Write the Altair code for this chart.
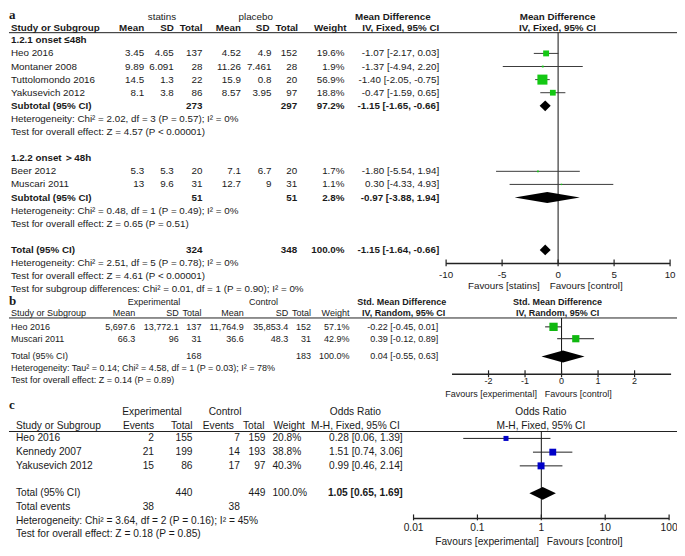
import altair as alt
import pandas as pd

# ======================= DATA =======================
# ---- panel a : statins vs placebo, mean difference ----
A_SUB_TITLES = ["1.2.1 onset ≤48h", "1.2.2 onset ＞48h"]
A_STUDY = ["Heo 2016", "Montaner 2008", "Tuttolomondo 2016", "Yakusevich 2012", "Beer 2012", "Muscari 2011"]
A_GROUP = [0, 0, 0, 0, 1, 1]
A_S_MEAN = ["3.45", "9.89", "14.5", "8.1", "5.3", "13"]
A_S_SD = ["4.65", "6.091", "1.3", "3.8", "5.3", "9.6"]
A_S_N = [137, 28, 22, 86, 20, 31]
A_P_MEAN = ["4.52", "11.26", "15.9", "8.57", "7.1", "12.7"]
A_P_SD = ["4.9", "7.461", "0.8", "3.95", "6.7", "9"]
A_P_N = [152, 28, 20, 97, 20, 31]
A_W = [19.6, 1.9, 56.9, 18.8, 1.7, 1.1]
A_EST = [-1.07, -1.37, -1.40, -0.47, -1.80, 0.30]
A_LO = [-2.17, -4.94, -2.05, -1.59, -5.54, -4.33]
A_HI = [0.03, 2.20, -0.75, 0.65, 1.94, 4.93]
A_SUB_S_N = [273, 51]
A_SUB_P_N = [297, 51]
A_SUB_W = [97.2, 2.8]
A_SUB_EST = [-1.15, -0.97]
A_SUB_LO = [-1.65, -3.88]
A_SUB_HI = [-0.66, 1.94]
A_SUB_HET = ["Heterogeneity: Chi² = 2.02, df = 3 (P = 0.57); I² = 0%",
             "Heterogeneity: Chi² = 0.48, df = 1 (P = 0.49); I² = 0%"]
A_SUB_Z = ["Test for overall effect: Z = 4.57 (P < 0.00001)",
           "Test for overall effect: Z = 0.65 (P = 0.51)"]
A_TOT = {"s_n": 324, "p_n": 348, "w": 100.0, "est": -1.15, "lo": -1.64, "hi": -0.66}
A_TOT_NOTES = ["Heterogeneity: Chi² = 2.51, df = 5 (P = 0.78); I² = 0%",
               "Test for overall effect: Z = 4.61 (P < 0.00001)",
               "Test for subgroup differences: Chi² = 0.01, df = 1 (P = 0.90); I² = 0%"]
A_TICKS = [-10, -5, 0, 5, 10]
A_TICK_LABELS = ["-10", "-5", "0", "5", "10"]
A_DOMAIN = [-10, 10]

# ---- panel b : std. mean difference ----
B_STUDY = ["Heo 2016", "Muscari 2011"]
B_E_MEAN = ["5,697.6", "66.3"]
B_E_SD = ["13,772.1", "96"]
B_E_N = [137, 31]
B_C_MEAN = ["11,764.9", "36.6"]
B_C_SD = ["35,853.4", "48.3"]
B_C_N = [152, 31]
B_W = [57.1, 42.9]
B_EST = [-0.22, 0.39]
B_LO = [-0.45, -0.12]
B_HI = [0.01, 0.89]
B_TOT = {"e_n": 168, "c_n": 183, "w": 100.0, "est": 0.04, "lo": -0.55, "hi": 0.63}
B_NOTES = ["Heterogeneity: Tau² = 0.14; Chi² = 4.58, df = 1 (P = 0.03); I² = 78%",
           "Test for overall effect: Z = 0.14 (P = 0.89)"]
B_TICKS = [-2, -1, 0, 1, 2]
B_TICK_LABELS = ["-2", "-1", "0", "1", "2"]
B_DOMAIN = [-3, 3]

# ---- panel c : odds ratio ----
C_STUDY = ["Heo 2016", "Kennedy 2007", "Yakusevich 2012"]
C_E_EV = [2, 21, 15]
C_E_N = [155, 199, 86]
C_C_EV = [7, 14, 17]
C_C_N = [159, 193, 97]
C_W = [20.8, 38.8, 40.3]
C_EST = [0.28, 1.51, 0.99]
C_LO = [0.06, 0.74, 0.46]
C_HI = [1.39, 3.06, 2.14]
C_TOT = {"e_n": 440, "c_n": 449, "w": 100.0, "est": 1.05, "lo": 0.65, "hi": 1.69,
         "e_ev": 38, "c_ev": 38}
C_NOTES = ["Heterogeneity: Chi² = 3.64, df = 2 (P = 0.16); I² = 45%",
           "Test for overall effect: Z = 0.18 (P = 0.85)"]
C_TICKS = [0.01, 0.1, 1, 10, 100]
C_TICK_LABELS = ["0.01", "0.1", "1", "10", "100"]
C_DOMAIN = [0.01, 100]

# ======================= LAYOUT =======================
W, H = 669, 540                 # whole drawing area (page margin 8px all round)
X0, X1 = 4, 682                 # layout units mapped onto the drawing width
Y0, Y1 = 3, 550
SX = W / (X1 - X0)
rx = lambda u: (u - X0) * SX
PX = alt.Scale(domain=[X0, X1], range=[0, W], zero=False, nice=False)
PY = alt.Scale(domain=[Y0, Y1], range=[0, H], zero=False, nice=False)
FA = alt.Scale(domain=A_DOMAIN, range=[rx(448), rx(675)], zero=False, nice=False)
FB = alt.Scale(domain=B_DOMAIN, range=[rx(454), rx(676)], zero=False, nice=False)
FC = alt.Scale(type="log", domain=C_DOMAIN, range=[rx(415), rx(674)], nice=False)

SANS = "Liberation Sans"
SERIF = "Liberation Serif"
INK = "#1a1a1a"
texts = []


def T(t, x, y, align="left", bold=False, size=9.8, font=SANS, color=INK):
    texts.append(dict(t=str(t), x=x, y=y, align=align, bold=bold, size=size, font=font, color=color))


def ci(e, l, h):
    return f"{e:.2f} [{l:.2f}, {h:.2f}]"


# ---------- panel a table ----------
SA = 9.8
ya = lambda i: 49 + (i - 1) * 13.27
colA = dict(name=7, sm=142, ssd=172, sn=201, pm=240, psd=271, pn=297, w=345, md=441)
T("a", 5, 10, bold=True, size=13, font=SERIF)
T("statins", 160, 12.5, "center", size=SA)
T("placebo", 255, 12.5, "center", size=SA)
T("Mean Difference", 394, 12.5, "center", True, SA)
T("Mean Difference", 561, 12.5, "center", True, SA)
hdrA = 23.5
T("Study or Subgroup", colA["name"], hdrA, "left", True, SA)
for lab, x in [("Mean", 142), ("SD", 172), ("Total", 201), ("Mean", 240), ("SD", 269), ("Total", 298)]:
    T(lab, x, hdrA, "right", True, SA)
T("Weight", 347, hdrA, "right", True, SA)
T("IV, Fixed, 95% CI", 402, hdrA, "center", True, SA)
T("IV, Fixed, 95% CI", 561, hdrA, "center", True, SA)

a_rows_y = []
a_sub_y = []
row = 0
for g in range(2):
    T(A_SUB_TITLES[g], colA["name"], ya(row), "left", True, SA)
    row += 1
    for k in range(len(A_STUDY)):
        if A_GROUP[k] != g:
            continue
        y = ya(row)
        a_rows_y.append(y)
        T(A_STUDY[k], colA["name"], y, size=SA)
        T(A_S_MEAN[k], colA["sm"], y, "right", size=SA)
        T(A_S_SD[k], colA["ssd"], y, "right", size=SA)
        T(A_S_N[k], colA["sn"], y, "right", size=SA)
        T(A_P_MEAN[k], colA["pm"], y, "right", size=SA)
        T(A_P_SD[k], colA["psd"], y, "right", size=SA)
        T(A_P_N[k], colA["pn"], y, "right", size=SA)
        T(f"{A_W[k]:.1f}%", colA["w"], y, "right", size=SA)
        T(ci(A_EST[k], A_LO[k], A_HI[k]), colA["md"], y, "right", size=SA)
        row += 1
    y = ya(row)
    a_sub_y.append(y)
    T("Subtotal (95% CI)", colA["name"], y, "left", True, SA)
    T(A_SUB_S_N[g], colA["sn"], y, "right", True, SA)
    T(A_SUB_P_N[g], colA["pn"], y, "right", True, SA)
    T(f"{A_SUB_W[g]:.1f}%", colA["w"], y, "right", True, SA)
    T(ci(A_SUB_EST[g], A_SUB_LO[g], A_SUB_HI[g]), colA["md"], y, "right", True, SA)
    T(A_SUB_HET[g], colA["name"], ya(row + 1), size=SA)
    T(A_SUB_Z[g], colA["name"], ya(row + 2), size=SA)
    row += 4
y_tot_a = ya(row)
T("Total (95% CI)", colA["name"], y_tot_a, "left", True, SA)
T(A_TOT["s_n"], colA["sn"], y_tot_a, "right", True, SA)
T(A_TOT["p_n"], colA["pn"], y_tot_a, "right", True, SA)
T(f"{A_TOT['w']:.1f}%", colA["w"], y_tot_a, "right", True, SA)
T(ci(A_TOT["est"], A_TOT["lo"], A_TOT["hi"]), colA["md"], y_tot_a, "right", True, SA)
for j, note in enumerate(A_TOT_NOTES):
    T(note, colA["name"], ya(row + 1 + j), size=SA)
A_UNDER, A_AXIS, A_TLAB, A_FAV = 28, 261.7, 273, 285
T("Favours [statins]", 543, A_FAV, "right", size=SA)
T("Favours [control]", 553, A_FAV, "left", size=SA)

# ---------- panel b table ----------
SB = 9
colB = dict(name=7, em=133, esd=177, en=200, cm=243, csd=288, cn=311, w=350, md=440)
yb = lambda i: 326 + i * 12
T("b", 5, 300, bold=True, size=13, font=SERIF)
T("Experimental", 152, 301, "center", size=SB)
T("Control", 263, 301, "center", size=SB)
T("Std. Mean Difference", 403, 301, "center", True, SB)
T("Std. Mean Difference", 561, 301, "center", True, SB)
hdrB = 312
T("Study or Subgroup", colB["name"], hdrB, "left", False, SB)
for lab, c in [("Mean", "em"), ("SD", "esd"), ("Total", "en"), ("Mean", "cm"), ("SD", "csd"), ("Total", "cn"), ("Weight", "w")]:
    T(lab, colB[c], hdrB, "right", False, SB)
T("IV, Random, 95% CI", 405, hdrB, "center", True, SB)
T("IV, Random, 95% CI", 561, hdrB, "center", True, SB)
b_rows_y = []
for k in range(len(B_STUDY)):
    y = yb(k)
    b_rows_y.append(y)
    T(B_STUDY[k], colB["name"], y, size=SB)
    T(B_E_MEAN[k], colB["em"], y, "right", size=SB)
    T(B_E_SD[k], colB["esd"], y, "right", size=SB)
    T(B_E_N[k], colB["en"], y, "right", size=SB)
    T(B_C_MEAN[k], colB["cm"], y, "right", size=SB)
    T(B_C_SD[k], colB["csd"], y, "right", size=SB)
    T(B_C_N[k], colB["cn"], y, "right", size=SB)
    T(f"{B_W[k]:.1f}%", colB["w"], y, "right", size=SB)
    T(ci(B_EST[k], B_LO[k], B_HI[k]), colB["md"], y, "right", size=SB)
y_tot_b = yb(2.5)
T("Total (95% CI)", colB["name"], y_tot_b, size=SB)
T(B_TOT["e_n"], colB["en"], y_tot_b, "right", size=SB)
T(B_TOT["c_n"], colB["cn"], y_tot_b, "right", size=SB)
T(f"{B_TOT['w']:.1f}%", colB["w"], y_tot_b, "right", size=SB)
T(ci(B_TOT["est"], B_TOT["lo"], B_TOT["hi"]), colB["md"], y_tot_b, "right", size=SB)
T(B_NOTES[0], colB["name"], yb(3.5), size=SB)
T(B_NOTES[1], colB["name"], yb(4.45), size=SB)
B_UNDER, B_AXIS, B_TLAB, B_FAV = 317, 374, 381, 394
T("Favours [experimental]", 540, B_FAV, "right", size=SB)
T("Favours [control]", 548, B_FAV, "left", size=SB)

# ---------- panel c table ----------
SC = 10.2
colC = dict(name=12, eev=152, en=191, cev=239, cn=265, w=272, md=404)
yc = lambda i: 439 + i * 13.9
T("c", 5, 405, bold=True, size=13, font=SERIF)
T("Experimental", 150, 412, "center", size=SC)
T("Control", 224, 412, "center", size=SC)
T("Odds Ratio", 356, 412, "center", size=SC)
T("Odds Ratio", 544, 412, "center", size=SC)
hdrC = 426
T("Study or Subgroup", colC["name"], hdrC, size=SC)
T("Events", 152, hdrC, "right", size=SC)
T("Total", 191, hdrC, "right", size=SC)
T("Events", 233, hdrC, "right", size=SC)
T("Total", 264, hdrC, "right", size=SC)
T("Weight", 273, hdrC, "left", size=SC)
T("M-H, Fixed, 95% CI", 356, hdrC, "center", size=SC)
T("M-H, Fixed, 95% CI", 544, hdrC, "center", size=SC)
c_rows_y = []
for k in range(len(C_STUDY)):
    y = yc(k)
    c_rows_y.append(y)
    T(C_STUDY[k], colC["name"], y, size=SC)
    T(C_E_EV[k], colC["eev"], y, "right", size=SC)
    T(C_E_N[k], colC["en"], y, "right", size=SC)
    T(C_C_EV[k], colC["cev"], y, "right", size=SC)
    T(C_C_N[k], colC["cn"], y, "right", size=SC)
    T(f"{C_W[k]:.1f}%", colC["w"], y, "left", size=SC)
    T(ci(C_EST[k], C_LO[k], C_HI[k]), colC["md"], y, "right", size=SC)
y_tot_c = yc(4)
T("Total (95% CI)", colC["name"], y_tot_c, size=SC)
T(C_TOT["e_n"], colC["en"], y_tot_c, "right", size=SC)
T(C_TOT["c_n"], colC["cn"], y_tot_c, "right", size=SC)
T(f"{C_TOT['w']:.1f}%", colC["w"], y_tot_c, "left", size=SC)
T(ci(C_TOT["est"], C_TOT["lo"], C_TOT["hi"]), colC["md"], y_tot_c, "right", True, SC)
T("Total events", colC["name"], yc(5), size=SC)
T(C_TOT["e_ev"], colC["eev"], yc(5), "right", size=SC)
T(C_TOT["c_ev"], colC["cev"], yc(5), "right", size=SC)
T(C_NOTES[0], colC["name"], yc(6), size=SC)
T(C_NOTES[1], colC["name"], yc(7), size=SC)
C_UNDER, C_AXIS, C_TLAB, C_FAV = 432, 520, 530, 544
T("Favours [experimental]", 542, C_FAV, "right", size=SC)
T("Favours [control]", 550, C_FAV, "left", size=SC)

# ======================= CHART =======================
noax = dict(axis=None)
layers = []

tdf = pd.DataFrame(texts)
for (align, bold, size, font, color), g in tdf.groupby(["align", "bold", "size", "font", "color"]):
    layers.append(
        alt.Chart(g).mark_text(align=align, baseline="middle", fontSize=float(size),
                               fontWeight="bold" if bold else "normal", font=font, color=color)
        .encode(x=alt.X("x:Q", scale=PX, **noax), y=alt.Y("y:Q", scale=PY, **noax), text="t:N")
    )

# header underlines
under = pd.DataFrame({"x": [5, 5, 5], "x2": [685, 685, 685], "y": [A_UNDER, B_UNDER, C_UNDER]})
layers.append(alt.Chart(under).mark_rule(color="#222", strokeWidth=1).encode(
    x=alt.X("x:Q", scale=PX, **noax), x2="x2:Q", y=alt.Y("y:Q", scale=PY, **noax)))


def forest(scale, ys, est, lo, hi, w, sq_color, sq_area, line_color, diamonds, null, y_top, y_axis,
           dom, ticks, tick_labels, y_lab, tick_up, tick_dn, label_size):
    out = []
    X = lambda f: alt.X(f, scale=scale, **noax)
    Y = lambda f: alt.Y(f, scale=PY, **noax)
    nd = pd.DataFrame({"x": [null], "y": [y_top], "y2": [y_axis]})
    out.append(alt.Chart(nd).mark_rule(color="#111", strokeWidth=1).encode(x=X("x:Q"), y=Y("y:Q"), y2="y2:Q"))
    ad = pd.DataFrame({"x": [dom[0]], "x2": [dom[1]], "y": [y_axis]})
    out.append(alt.Chart(ad).mark_rule(color="#222", strokeWidth=1.5).encode(x=X("x:Q"), x2="x2:Q", y=Y("y:Q")))
    td = pd.DataFrame({"x": ticks, "y": [y_axis - tick_up] * len(ticks), "y2": [y_axis + tick_dn] * len(ticks),
                       "yl": [y_lab] * len(ticks), "t": tick_labels})
    out.append(alt.Chart(td).mark_rule(color="#222", strokeWidth=1.2).encode(x=X("x:Q"), y=Y("y:Q"), y2="y2:Q"))
    out.append(alt.Chart(td).mark_text(font=SANS, fontSize=label_size, color=INK, baseline="middle")
               .encode(x=X("x:Q"), y=Y("yl:Q"), text="t:N"))
    cd = pd.DataFrame({"lo": lo, "hi": hi, "y": ys, "est": est, "w": w})
    out.append(alt.Chart(cd).mark_rule(color=line_color, strokeWidth=1).encode(x=X("lo:Q"), x2="hi:Q", y=Y("y:Q")))
    out.append(alt.Chart(cd).mark_square(filled=True, opacity=1, color=sq_color).encode(
        x=X("est:Q"), y=Y("y:Q"),
        size=alt.Size("w:Q", scale=alt.Scale(domain=[0, 100], range=[0, sq_area]), legend=None)))
    recs = []
    for i, (dy, de, dl, dh, half) in enumerate(diamonds):
        recs += [dict(id=i, x=dl, ya=dy, yb=dy), dict(id=i, x=de, ya=dy - half, yb=dy + half),
                 dict(id=i, x=dh, ya=dy, yb=dy)]
    dd = pd.DataFrame(recs)
    out.append(alt.Chart(dd).mark_area(color="black", opacity=1, interpolate="linear").encode(
        x=X("x:Q"), y=alt.Y("ya:Q", scale=PY, stack=None, **noax), y2="yb:Q", detail="id:N"))
    return out


layers += forest(FA, a_rows_y, A_EST, A_LO, A_HI, A_W, "#14c814", 177, "#3c3c3c",
                 [(a_sub_y[0], A_SUB_EST[0], A_SUB_LO[0], A_SUB_HI[0], 5.5),
                  (a_sub_y[1], A_SUB_EST[1], A_SUB_LO[1], A_SUB_HI[1], 5.5),
                  (y_tot_a, A_TOT["est"], A_TOT["lo"], A_TOT["hi"], 5.5)],
                 0, A_UNDER, A_AXIS, A_DOMAIN, A_TICKS, A_TICK_LABELS, A_TLAB, 4, 3, SA)
layers += forest(FB, b_rows_y, B_EST, B_LO, B_HI, B_W, "#10b810", 121, "#222",
                 [(y_tot_b, B_TOT["est"], B_TOT["lo"], B_TOT["hi"], 6)],
                 0, B_UNDER, B_AXIS, B_DOMAIN, B_TICKS, B_TICK_LABELS, B_TLAB, 4, 3, SB)
layers += forest(FC, c_rows_y, C_EST, C_LO, C_HI, C_W, "#0000c8", 121, "#222",
                 [(y_tot_c, C_TOT["est"], C_TOT["lo"], C_TOT["hi"], 6.5)],
                 1, C_UNDER, C_AXIS, C_DOMAIN, C_TICKS, C_TICK_LABELS, C_TLAB, 4, 2, SC)

chart = (
    alt.layer(*layers)
    .resolve_scale(x="independent", size="independent")
    .properties(width=W, height=H, padding=0, autosize=alt.AutoSizeParams(type="none"),
                background="white")
    .configure_view(stroke=None)
)

chart.save("out.html", embed_options={"renderer": "svg", "actions": False})
